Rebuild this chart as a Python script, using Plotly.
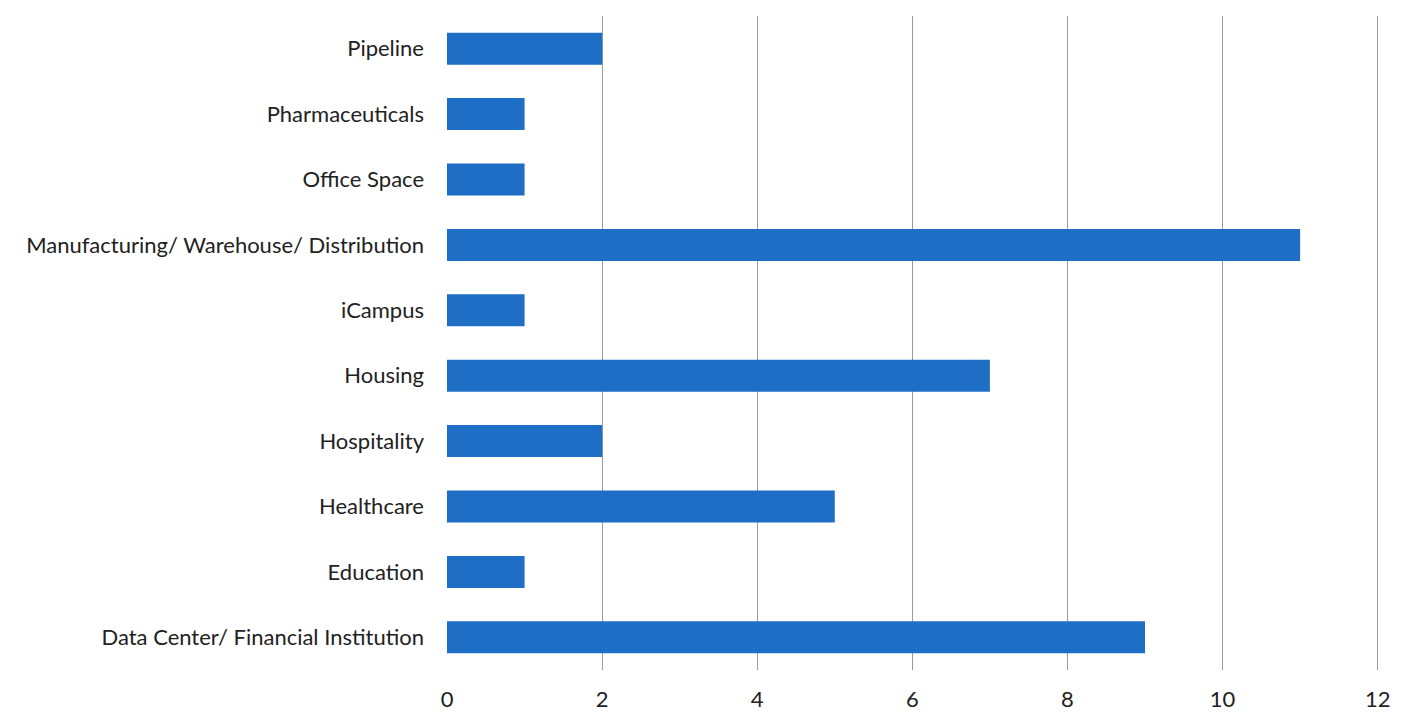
import plotly.graph_objects as go

categories = ["Data Center/ Financial Institution", "Education", "Healthcare", "Hospitality",
              "Housing", "iCampus", "Manufacturing/ Warehouse/ Distribution", "Office Space",
              "Pharmaceuticals", "Pipeline"]
values = [9, 1, 5, 2, 7, 1, 11, 1, 1, 2]
x_ticks = [0, 2, 4, 6, 8, 10, 12]

fig = go.Figure(go.Bar(
    y=categories, x=values, orientation="h",
    marker=dict(color="#1f6ec6", line=dict(width=0)),
    width=0.49,
))

fig.update_layout(
    width=1401, height=717,
    margin=dict(l=447, r=21, t=16, b=47),
    paper_bgcolor="white", plot_bgcolor="white",
    font=dict(family="Lato", size=22, color="#222222"),
    showlegend=False,
    bargap=0.5,
)
fig.update_xaxes(
    range=[0, 12.03], tickvals=x_ticks, showgrid=True, gridcolor="#9a9a9a", gridwidth=1,
    zeroline=False, showline=False, ticklabelstandoff=14, automargin=False,
)
fig.update_yaxes(
    categoryorder="array", categoryarray=categories, showgrid=False,
    zeroline=False, showline=False, ticklabelstandoff=22, automargin=False,
)

fig.write_html("out.html")
